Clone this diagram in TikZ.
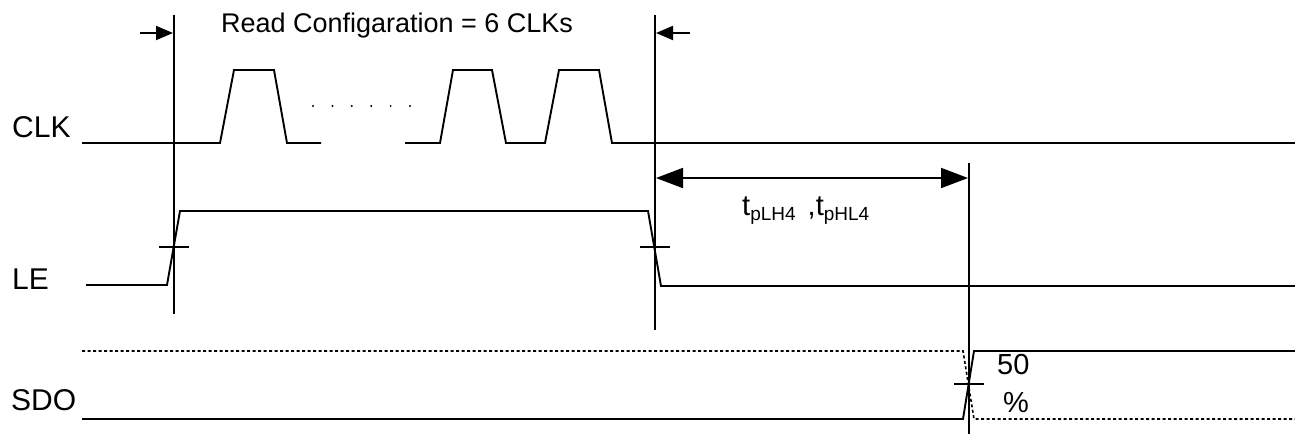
\documentclass[tikz,border=0pt]{standalone}
\usepackage{fontspec}
\setmainfont{Liberation Sans}
\usetikzlibrary{arrows.meta}
\tikzset{
  wave/.style={line width=1.9pt, line join=miter},
  marker/.style={line width=1.9pt},
  dotwave/.style={line width=1.6pt, dash pattern=on 3pt off 2.5pt},
  siglabel/.style={font=\fontsize{30}{30}\selectfont, anchor=base west, inner sep=0pt},
  smallhead/.style={-{Triangle[length=17pt,width=14pt]}, line width=1.9pt},
  bighead/.style={{Triangle[length=27pt,width=20pt]}-{Triangle[length=27pt,width=20pt]}, line width=1.9pt},
}
\begin{document}
\begin{tikzpicture}[x=1pt,y=-1pt]
\useasboundingbox (0,0) rectangle (1295,437);

% labels
\node[siglabel] (clk) at (12,137) {CLK};
\node[siglabel] (le) at (12,289) {LE};
\node[siglabel] (sdo) at (11,410) {SDO};
\node[font=\fontsize{27}{27}\selectfont, anchor=base, inner sep=0pt] (title) at (397,32) {Read Configaration = 6 CLKs};

% vertical reference lines
\coordinate (a1) at (174,15); \coordinate (a2) at (174,314);
\coordinate (b1) at (655,15); \coordinate (b2) at (655,330);
\coordinate (c1) at (969,163); \coordinate (c2) at (969,434);
\draw[marker] (a1) -- (a2);
\draw[marker] (b1) -- (b2);
\draw[marker] (c1) -- (c2);

% top arrows
\coordinate (la) at (140,33); \coordinate (laE) at (173,33);
\coordinate (ra) at (690,33); \coordinate (raE) at (656,33);
\draw[smallhead] (la) -- (laE);
\draw[smallhead] (ra) -- (raE);

% CLK waveform
\draw[wave] (82,143) -- (220,143) -- (234,70) -- (274,70) -- (287,143) -- (321,143);
\draw[wave] (405,143) -- (440,143) -- (453,70) -- (492,70) -- (506,143) -- (545,143)
  -- (559,70) -- (599,70) -- (612,143) -- (1295,143);
\foreach \x in {313,332.4,351.8,371.2,390.6,410}
  \fill (\x,106) circle (1.1pt);

% LE waveform
\draw[wave] (86,285) -- (167,285) -- (180,211) -- (648,211) -- (661,286) -- (1295,286);
\draw[marker] (159,247) -- (189,247);
\draw[marker] (640,247) -- (670,247);

% timing dimension
\coordinate (d1) at (656,178); \coordinate (d2) at (968,178);
\draw[bighead] (d1) -- (d2);
\node[anchor=base west, inner sep=0pt] (tp) at (742,215)
  {\fontsize{29}{29}\selectfont t\raisebox{-5pt}{\fontsize{19}{19}\selectfont pLH4}\hspace{12pt},t\raisebox{-5pt}{\fontsize{19}{19}\selectfont pHL4}};

% SDO waveform
\draw[wave] (82,419) -- (963,419) -- (974,351) -- (1295,351);
\draw[dotwave] (82,351) -- (963,351) -- (974,419) -- (1295,419);
\draw[marker] (954,384) -- (984,384);
\node[font=\fontsize{29}{29}\selectfont, anchor=base west, inner sep=0pt] (fifty) at (997,374) {50};
\node[font=\fontsize{29}{29}\selectfont, anchor=base west, inner sep=0pt] (pct) at (1003,412) {\%};
\end{tikzpicture}
\end{document}
